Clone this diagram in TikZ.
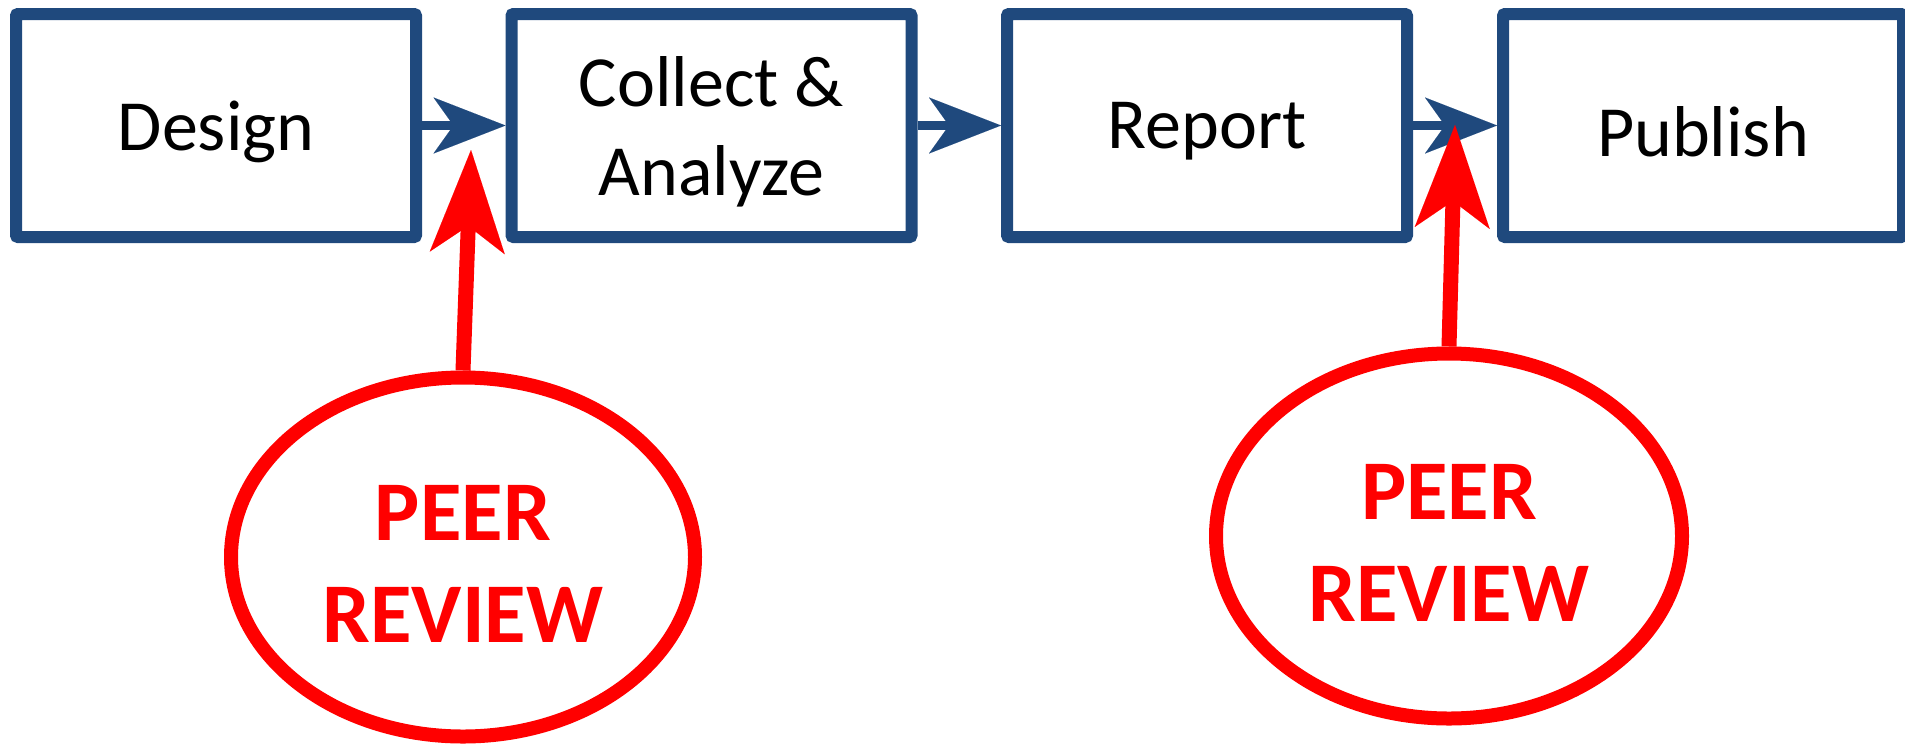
\documentclass[tikz,border=0pt]{standalone}
\usepackage{fontspec}
\setmainfont{Carlito}
\usetikzlibrary{arrows.meta,shapes.geometric}
\definecolor{stageblue}{RGB}{31,73,125}
\definecolor{reviewred}{RGB}{255,0,0}
\tikzset{
  stagebox/.style={draw=stageblue, line width=12pt, rounded corners=2pt,
    minimum width=400pt, minimum height=223pt, inner sep=0pt,
    label={[stagetext]center:#1}},
  stagetext/.style={align=center, font=\fontsize{72}{89}\selectfont,
    text=black, inner sep=0pt, yshift=-6pt},
  flow/.style={draw=stageblue, line width=9pt,
    -{Stealth[length=72pt, width=56pt, inset=20pt, line width=0.01pt]}},
  reviewbubble/.style={ellipse, draw=reviewred, line width=14pt, inner sep=0pt,
    label={[reviewtext]center:#1}},
  reviewtext/.style={align=center, text=reviewred, inner sep=0pt, yshift=-7pt,
    font=\bfseries\fontsize{85}{102}\selectfont},
  feedback/.style={draw=reviewred, line width=15pt,
    -{Stealth[length=103pt, width=75pt, inset=27pt, line width=0.01pt]}}
}
\begin{document}
\begin{tikzpicture}[x=1pt, y=-1pt]
  \useasboundingbox (0,0) rectangle (1905,750);

  % process stages
  \node[stagebox={Design}]              (design)  at (216,125.5)   {};
  \node[stagebox={Collect \&\\Analyze}] (collect) at (711.5,125.5) {};
  \node[stagebox={Report}]              (report)  at (1207,125.5)  {};
  \node[stagebox={Publish}]             (publish) at (1703,125.5)  {};

  % stage-to-stage flow
  \draw[flow] (design.east)  -- (collect.west);
  \draw[flow] (collect.east) -- (report.west);
  \draw[flow] (report.east)  -- (publish.west);

  % review checkpoints
  \node[reviewbubble={PEER\\REVIEW}, minimum width=464pt, minimum height=359pt]
    (reviewA) at (463,557) {};
  \node[reviewbubble={PEER\\REVIEW}, minimum width=466pt, minimum height=365pt]
    (reviewB) at (1449,536) {};

  \coordinate (tipA) at (471,150);
  \coordinate (tipB) at (1455,125);
  \draw[feedback] (reviewA.north) -- (tipA);
  \draw[feedback] (reviewB.north) -- (tipB);
\end{tikzpicture}
\end{document}
